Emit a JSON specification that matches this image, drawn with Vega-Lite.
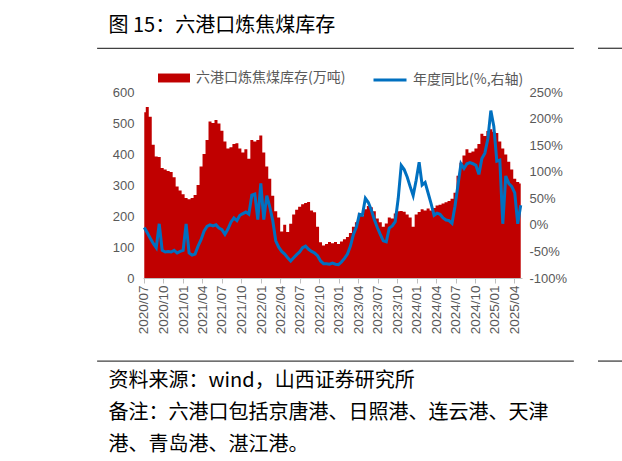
{
  "$schema": "https://vega.github.io/schema/vega-lite/v6.json",
  "width": 379,
  "height": 186,
  "autosize": {"type": "none"},
  "padding": {"left": 143, "top": 92, "right": 100, "bottom": 183},
  "background": "white",
  "config": {
    "view": {"stroke": null},
    "font": "Noto Sans CJK SC",
    "axis": {"labelFont": "Liberation Sans", "labelColor": "#595959", "labelFontSize": 13, "grid": false},
    "legend": {"labelFont": "Noto Sans CJK SC", "labelColor": "#595959", "labelFontSize": 14, "padding": 0, "title": null}
  },
  "datasets": {
    "stock": [
      {"d": "2020-07-03", "s": 535, "p": -5},
      {"d": "2020-07-17", "s": 552, "p": -15},
      {"d": "2020-07-31", "s": 520, "p": -25},
      {"d": "2020-08-14", "s": 430, "p": -35},
      {"d": "2020-08-28", "s": 392, "p": -43},
      {"d": "2020-09-11", "s": 390, "p": 2},
      {"d": "2020-09-25", "s": 355, "p": -48},
      {"d": "2020-10-09", "s": 350, "p": -51},
      {"d": "2020-10-23", "s": 345, "p": -50},
      {"d": "2020-11-06", "s": 342, "p": -51},
      {"d": "2020-11-20", "s": 325, "p": -48},
      {"d": "2020-12-04", "s": 295, "p": -53},
      {"d": "2020-12-18", "s": 282, "p": -50},
      {"d": "2021-01-01", "s": 270, "p": -48},
      {"d": "2021-01-15", "s": 258, "p": 2},
      {"d": "2021-01-29", "s": 254, "p": -53},
      {"d": "2021-02-12", "s": 258, "p": -57},
      {"d": "2021-02-26", "s": 268, "p": -55},
      {"d": "2021-03-12", "s": 300, "p": -40},
      {"d": "2021-03-26", "s": 360, "p": -28},
      {"d": "2021-04-09", "s": 400, "p": -12},
      {"d": "2021-04-23", "s": 445, "p": -3},
      {"d": "2021-05-07", "s": 505, "p": 0},
      {"d": "2021-05-21", "s": 500, "p": -2},
      {"d": "2021-06-04", "s": 510, "p": 0},
      {"d": "2021-06-18", "s": 498, "p": -6},
      {"d": "2021-07-02", "s": 475, "p": -9},
      {"d": "2021-07-16", "s": 440, "p": -18},
      {"d": "2021-07-30", "s": 418, "p": -8},
      {"d": "2021-08-13", "s": 422, "p": 5},
      {"d": "2021-08-27", "s": 432, "p": 13},
      {"d": "2021-09-10", "s": 435, "p": 8},
      {"d": "2021-09-24", "s": 418, "p": 18},
      {"d": "2021-10-08", "s": 405, "p": 21},
      {"d": "2021-10-22", "s": 415, "p": 24},
      {"d": "2021-11-05", "s": 385, "p": 20},
      {"d": "2021-11-19", "s": 445, "p": 56},
      {"d": "2021-12-03", "s": 440, "p": 58},
      {"d": "2021-12-17", "s": 445, "p": 10},
      {"d": "2021-12-31", "s": 460, "p": 78},
      {"d": "2022-01-14", "s": 405, "p": 10},
      {"d": "2022-01-28", "s": 360, "p": 55},
      {"d": "2022-02-11", "s": 320, "p": 34},
      {"d": "2022-02-25", "s": 265, "p": 8},
      {"d": "2022-03-11", "s": 215, "p": -30},
      {"d": "2022-03-25", "s": 195, "p": -42},
      {"d": "2022-04-08", "s": 150, "p": -50},
      {"d": "2022-04-22", "s": 172, "p": -55},
      {"d": "2022-05-06", "s": 148, "p": -62},
      {"d": "2022-05-20", "s": 175, "p": -68},
      {"d": "2022-06-03", "s": 205, "p": -62},
      {"d": "2022-06-17", "s": 220, "p": -56},
      {"d": "2022-07-01", "s": 230, "p": -51},
      {"d": "2022-07-15", "s": 238, "p": -43},
      {"d": "2022-07-29", "s": 242, "p": -40},
      {"d": "2022-08-12", "s": 245, "p": -46},
      {"d": "2022-08-26", "s": 218, "p": -50},
      {"d": "2022-09-09", "s": 212, "p": -53},
      {"d": "2022-09-23", "s": 165, "p": -58},
      {"d": "2022-10-07", "s": 115, "p": -68},
      {"d": "2022-10-21", "s": 105, "p": -73},
      {"d": "2022-11-04", "s": 110, "p": -73},
      {"d": "2022-11-18", "s": 116, "p": -74},
      {"d": "2022-12-02", "s": 112, "p": -72},
      {"d": "2022-12-16", "s": 116, "p": -74},
      {"d": "2022-12-30", "s": 110, "p": -75},
      {"d": "2023-01-13", "s": 118, "p": -70},
      {"d": "2023-01-27", "s": 125, "p": -63},
      {"d": "2023-02-10", "s": 132, "p": -55},
      {"d": "2023-02-24", "s": 145, "p": -40},
      {"d": "2023-03-10", "s": 165, "p": -18},
      {"d": "2023-03-24", "s": 180, "p": -4},
      {"d": "2023-04-07", "s": 210, "p": 20},
      {"d": "2023-04-21", "s": 200, "p": 18},
      {"d": "2023-05-05", "s": 222, "p": 50},
      {"d": "2023-05-19", "s": 232, "p": 42},
      {"d": "2023-06-02", "s": 228, "p": 28},
      {"d": "2023-06-16", "s": 215, "p": 10},
      {"d": "2023-06-30", "s": 192, "p": -5},
      {"d": "2023-07-14", "s": 180, "p": -18},
      {"d": "2023-07-28", "s": 165, "p": -30},
      {"d": "2023-08-11", "s": 176, "p": -32},
      {"d": "2023-08-25", "s": 195, "p": -6},
      {"d": "2023-09-08", "s": 192, "p": -2},
      {"d": "2023-09-22", "s": 208, "p": 6},
      {"d": "2023-10-06", "s": 215, "p": 50},
      {"d": "2023-10-20", "s": 216, "p": 112},
      {"d": "2023-11-03", "s": 214, "p": 104},
      {"d": "2023-11-17", "s": 205, "p": 90},
      {"d": "2023-12-01", "s": 195, "p": 72},
      {"d": "2023-12-15", "s": 165, "p": 55},
      {"d": "2023-12-29", "s": 205, "p": 84},
      {"d": "2024-01-12", "s": 213, "p": 118},
      {"d": "2024-01-26", "s": 222, "p": 75},
      {"d": "2024-02-09", "s": 218, "p": 80},
      {"d": "2024-02-23", "s": 224, "p": 60},
      {"d": "2024-03-08", "s": 218, "p": 40},
      {"d": "2024-03-22", "s": 226, "p": 18},
      {"d": "2024-04-05", "s": 234, "p": 22},
      {"d": "2024-04-19", "s": 236, "p": 20},
      {"d": "2024-05-03", "s": 240, "p": 13},
      {"d": "2024-05-17", "s": 244, "p": 9},
      {"d": "2024-05-31", "s": 248, "p": 8},
      {"d": "2024-06-14", "s": 256, "p": 3},
      {"d": "2024-06-28", "s": 275, "p": 35},
      {"d": "2024-07-12", "s": 330, "p": 75},
      {"d": "2024-07-26", "s": 372, "p": 115},
      {"d": "2024-08-09", "s": 395, "p": 106},
      {"d": "2024-08-23", "s": 415, "p": 115},
      {"d": "2024-09-06", "s": 404, "p": 117},
      {"d": "2024-09-20", "s": 408, "p": 115},
      {"d": "2024-10-04", "s": 418, "p": 112},
      {"d": "2024-10-18", "s": 432, "p": 95},
      {"d": "2024-11-01", "s": 465, "p": 125},
      {"d": "2024-11-15", "s": 458, "p": 135},
      {"d": "2024-11-29", "s": 474, "p": 162},
      {"d": "2024-12-13", "s": 480, "p": 215},
      {"d": "2024-12-27", "s": 472, "p": 185},
      {"d": "2025-01-10", "s": 468, "p": 120},
      {"d": "2025-01-24", "s": 440, "p": 122},
      {"d": "2025-02-07", "s": 418, "p": 2},
      {"d": "2025-02-21", "s": 398, "p": 92},
      {"d": "2025-03-07", "s": 375, "p": 78},
      {"d": "2025-03-21", "s": 350, "p": 72},
      {"d": "2025-04-04", "s": 320, "p": 60},
      {"d": "2025-04-18", "s": 310, "p": 2},
      {"d": "2025-05-02", "s": 305, "p": 37}
    ]
  },
  "data": {"name": "stock"},
  "layer": [
    {
      "mark": {"type": "area", "interpolate": "step"},
      "encoding": {
        "x": {
          "field": "d",
          "type": "temporal",
          "scale": {"domain": [{"year": 2020, "month": 6, "date": 27}, {"year": 2025, "month": 5, "date": 8}], "nice": false},
          "axis": {
            "values": [
              {"year": 2020, "month": 7, "date": 1}, {"year": 2020, "month": 10, "date": 1},
              {"year": 2021, "month": 1, "date": 1}, {"year": 2021, "month": 4, "date": 1},
              {"year": 2021, "month": 7, "date": 1}, {"year": 2021, "month": 10, "date": 1},
              {"year": 2022, "month": 1, "date": 1}, {"year": 2022, "month": 4, "date": 1},
              {"year": 2022, "month": 7, "date": 1}, {"year": 2022, "month": 10, "date": 1},
              {"year": 2023, "month": 1, "date": 1}, {"year": 2023, "month": 4, "date": 1},
              {"year": 2023, "month": 7, "date": 1}, {"year": 2023, "month": 10, "date": 1},
              {"year": 2024, "month": 1, "date": 1}, {"year": 2024, "month": 4, "date": 1},
              {"year": 2024, "month": 7, "date": 1}, {"year": 2024, "month": 10, "date": 1},
              {"year": 2025, "month": 1, "date": 1}, {"year": 2025, "month": 4, "date": 1}
            ],
            "format": "%Y/%m",
            "labelAngle": 270,
            "labelAlign": "right",
            "labelBaseline": "middle",
            "labelPadding": 2,
            "labelFontSize": 13.5,
            "labelOverlap": false,
            "labelFlush": false,
            "tickSize": 5,
            "tickColor": "#bfbfbf",
            "domainColor": "#bfbfbf",
            "title": ["资料来源：wind，山西证券研究所", "备注：六港口包括京唐港、日照港、连云港、天津", "港、青岛港、湛江港。"],
            "titleX": -35,
            "titleY": 108,
            "titleAlign": "left",
            "titleAngle": 0,
            "titleBaseline": "alphabetic",
            "titleFont": "Noto Sans CJK SC",
            "titleFontSize": 20,
            "titleFontWeight": "normal",
            "titleColor": "#000000",
            "titleLineHeight": 32
          }
        },
        "y": {
          "field": "s",
          "type": "quantitative",
          "scale": {"domain": [0, 600], "nice": false},
          "axis": {
            "orient": "left",
            "values": [0, 100, 200, 300, 400, 500, 600],
            "domain": false,
            "ticks": false,
            "labelPadding": 9,
            "title": "图 15：六港口炼焦煤库存",
            "titleX": -35,
            "titleY": -61,
            "titleAngle": 0,
            "titleAlign": "left",
            "titleBaseline": "alphabetic",
            "titleFont": "Noto Sans CJK SC",
            "titleFontSize": 20,
            "titleFontWeight": "normal",
            "titleColor": "#000000"
          }
        },
        "fill": {
          "datum": "六港口炼焦煤库存(万吨)",
          "type": "nominal",
          "scale": {"range": ["#C00000"]},
          "legend": {
            "orient": "none",
            "legendX": 15,
            "legendY": -30,
            "symbolType": "M-1,-0.28H1V0.28H-1Z",
            "symbolSize": 1024,
            "symbolStrokeWidth": 0,
            "labelOffset": 6
          }
        }
      }
    },
    {
      "mark": {"type": "line", "strokeWidth": 3},
      "encoding": {
        "x": {"field": "d", "type": "temporal", "axis": null},
        "y": {
          "field": "p",
          "type": "quantitative",
          "scale": {"domain": [-100, 250], "nice": false},
          "axis": {
            "orient": "right",
            "values": [-100, -50, 0, 50, 100, 150, 200, 250],
            "labelExpr": "datum.value + '%'",
            "domain": false,
            "ticks": false,
            "labelPadding": 7,
            "title": null
          }
        },
        "stroke": {
          "datum": "年度同比(%,右轴)",
          "type": "nominal",
          "scale": {"range": ["#0070C0"]},
          "legend": {
            "orient": "none",
            "legendX": 229,
            "legendY": -30,
            "symbolType": "stroke",
            "symbolSize": 1089,
            "symbolStrokeWidth": 3,
            "labelOffset": 5
          }
        }
      }
    },
    {
      "data": {"values": [{}]},
      "mark": {"type": "rule", "color": "#404040", "strokeWidth": 1.3},
      "encoding": {
        "x": {"datum": {"year": 2019, "month": 11, "date": 25}, "type": "temporal", "axis": null},
        "x2": {"datum": {"year": 2026, "month": 1, "date": 6}},
        "y": {"datum": 741, "type": "quantitative", "scale": {"domain": [0, 600], "nice": false}, "axis": null}
      }
    },
    {
      "data": {"values": [{}]},
      "mark": {"type": "rule", "color": "#404040", "strokeWidth": 1.3},
      "encoding": {
        "x": {"datum": {"year": 2019, "month": 11, "date": 25}, "type": "temporal", "axis": null},
        "x2": {"datum": {"year": 2026, "month": 1, "date": 6}},
        "y": {"datum": -268, "type": "quantitative", "scale": {"domain": [0, 600], "nice": false}, "axis": null}
      }
    },
    {
      "data": {"values": [{}]},
      "mark": {"type": "rule", "color": "#404040", "strokeWidth": 1.3},
      "encoding": {
        "x": {"datum": {"year": 2026, "month": 4, "date": 29}, "type": "temporal", "axis": null},
        "x2": {"datum": {"year": 2026, "month": 8, "date": 25}},
        "y": {"datum": 741, "type": "quantitative", "scale": {"domain": [0, 600], "nice": false}, "axis": null}
      }
    },
    {
      "data": {"values": [{}]},
      "mark": {"type": "rule", "color": "#404040", "strokeWidth": 1.3},
      "encoding": {
        "x": {"datum": {"year": 2026, "month": 4, "date": 29}, "type": "temporal", "axis": null},
        "x2": {"datum": {"year": 2026, "month": 8, "date": 25}},
        "y": {"datum": -268, "type": "quantitative", "scale": {"domain": [0, 600], "nice": false}, "axis": null}
      }
    }
  ],
  "resolve": {"scale": {"y": "independent"}, "axis": {"x": "independent"}}
}
